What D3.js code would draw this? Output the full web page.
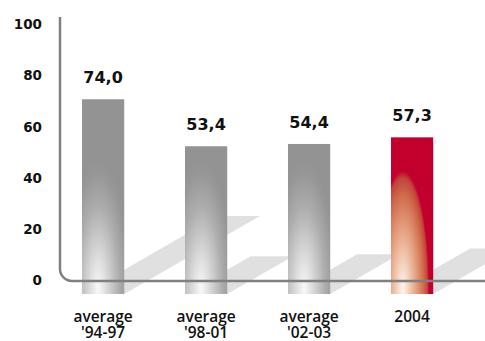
<!DOCTYPE html>
<html>
<head>
<meta charset="utf-8">
<script src="https://cdn.jsdelivr.net/npm/d3@7"></script>
<style>
  html, body { margin: 0; padding: 0; background: #fff; }
  svg { display: block; }
</style>
</head>
<body>
<svg id="chart" width="485" height="341"></svg>
<script>
// ---- data ----
const categories = ["average\n'94-97", "average\n'98-01", "average\n'02-03", "2004"];
const values = [74.0, 53.4, 54.4, 57.3];
const valueLabels = ["74,0", "53,4", "54,4", "57,3"];
const highlight = [false, false, false, true];
const tickValues = [0, 20, 40, 60, 80, 100];

const svg = d3.select("#chart");
const W = 485, H = 341;
const barBottom = 294;
const axisY = 281;

// scales
const x = d3.scaleBand().domain(categories).range([51.6, 463.6]).paddingInner(0.59).paddingOuter(0.295);
const yBar = d3.scaleLinear().domain([0, 100]).range([268, 40]);
const yAxis = d3.scaleLinear().domain([0, 100]).range([280.2, 24.5]);
const shadowLen = d3.scaleLinear().domain([34, 74]).range([0, 78]);
const slant = 1.74;

const defs = svg.append("defs");
const bw = x.bandwidth();

categories.forEach((c, i) => {
  const bx = x(c);
  const red = highlight[i];
  const cx = bx + (red ? 0.28 : 0.38) * bw;
  const cy = 289;
  const rx = red ? 0.62 * bw : 0.78 * bw;
  const ry = red ? 118 : 128;
  const g = defs.append("radialGradient")
    .attr("id", "grad" + i)
    .attr("gradientUnits", "userSpaceOnUse")
    .attr("cx", 0).attr("cy", 0).attr("r", 1)
    .attr("gradientTransform", `translate(${cx},${cy}) scale(${rx},${ry})`);
  const stops = red
    ? [[0, "#fff6f0"], [0.25, "#f2cdb6"], [0.55, "#e29a78"], [0.8, "#d06a4c"], [0.94, "#c2443a"], [1, "#c3002d"]]
    : [[0, "#f9f9f9"], [0.3, "#d6d6d6"], [0.65, "#acacac"], [0.9, "#979797"], [1, "#939393"]];
  stops.forEach(s => g.append("stop").attr("offset", s[0]).attr("stop-color", s[1]));
});

// shadows
svg.append("g").selectAll("path")
  .data(categories)
  .join("path")
  .attr("fill", "#e0e0e0")
  .attr("d", (c, i) => {
    const bx = x(c);
    const L = shadowLen(values[i]);
    const dx = L * slant;
    return `M${bx},${barBottom} L${bx + bw},${barBottom} L${bx + bw + dx},${barBottom - L} L${bx + dx},${barBottom - L} Z`;
  });

// bars
svg.append("g").selectAll("rect")
  .data(categories)
  .join("rect")
  .attr("x", c => x(c))
  .attr("width", bw)
  .attr("y", (c, i) => yBar(values[i]))
  .attr("height", (c, i) => barBottom - yBar(values[i]))
  .attr("fill", (c, i) => `url(#grad${i})`);

// axis line with rounded corner
svg.append("path")
  .attr("d", `M60,17 V${axisY - 12} A12,12 0 0 0 72,${axisY} H${W}`)
  .attr("fill", "none")
  .attr("stroke", "#808080")
  .attr("stroke-width", 2.5);

// y tick labels
const ax = svg.append("g")
  .attr("transform", "translate(42,0)")
  .call(d3.axisLeft(yAxis).tickValues(tickValues).tickSize(0).tickPadding(0).tickFormat(d3.format("d")));
ax.select(".domain").remove();
ax.selectAll("text")
  .attr("font-family", "'DejaVu Sans', sans-serif")
  .attr("font-weight", "bold")
  .attr("font-size", 13.5)
  .attr("fill", "#111");

// value labels
svg.append("g").selectAll("text")
  .data(categories)
  .join("text")
  .attr("x", c => x(c) + bw / 2)
  .attr("y", (c, i) => yBar(values[i]) - 16)
  .attr("text-anchor", "middle")
  .attr("font-family", "'DejaVu Sans', sans-serif")
  .attr("font-weight", "bold")
  .attr("font-size", 16)
  .attr("fill", "#111")
  .text((c, i) => valueLabels[i]);

// category labels
const cl = svg.append("g").selectAll("text")
  .data(categories)
  .join("text")
  .attr("x", c => x(c) + bw / 2)
  .attr("y", 322)
  .attr("text-anchor", "middle")
  .attr("font-family", "'Open Sans', sans-serif")
  .attr("font-weight", 600)
  .attr("font-size", 15.5)
  .attr("fill", "#111");
cl.each(function(c) {
  const lines = c.split("\n");
  const t = d3.select(this);
  lines.forEach((l, j) => {
    t.append("tspan").attr("x", x(c) + bw / 2).attr("dy", j === 0 ? 0 : 16).text(l);
  });
});
</script>
</body>
</html>
